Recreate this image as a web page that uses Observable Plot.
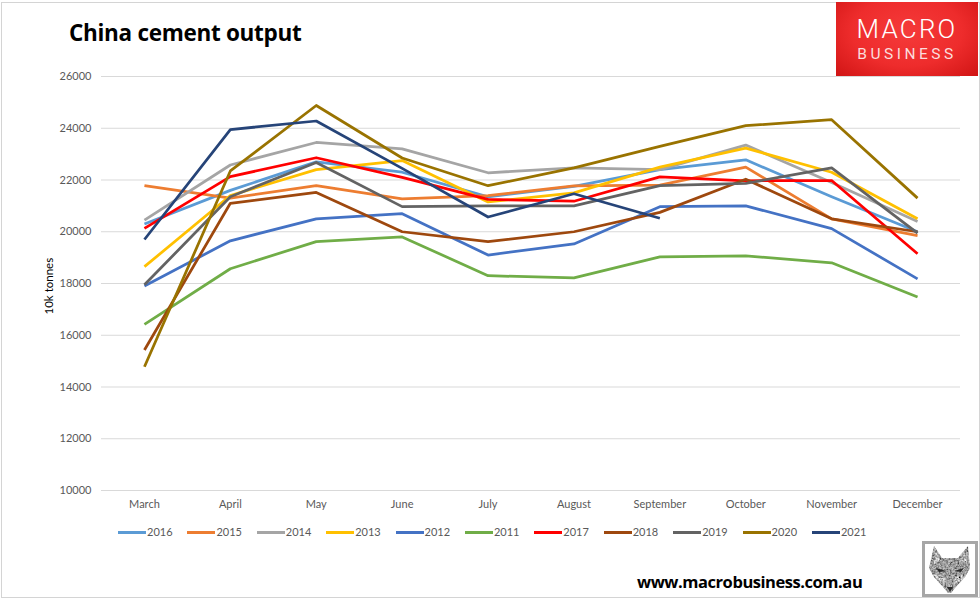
<!DOCTYPE html>
<html>
<head>
<meta charset="utf-8">
<script src="https://cdn.jsdelivr.net/npm/d3@7"></script>
<script src="https://cdn.jsdelivr.net/npm/@observablehq/plot@0.6"></script>
<style>
html,body{margin:0;padding:0;background:#fff;}
#frame{position:relative;width:980px;height:598px;overflow:hidden;font-family:Lato,sans-serif;background:#fff;}
#edge{position:absolute;left:1px;top:2px;width:977px;height:594px;border:1px solid #d4d4d4;pointer-events:none;}
#title{height:60px;box-sizing:border-box;padding:18px 0 0 69px;font:700 22.5px/30px "Open Sans",sans-serif;color:#000;letter-spacing:-.3px;}
#chart svg{display:block;}
#legend{position:absolute;top:524px;left:118px;display:flex;font-size:11px;line-height:16px;color:#595959;}
.item{display:flex;align-items:center;width:69.4px;}
.swatch{width:28px;height:3px;margin-right:1px;}
#url{position:absolute;left:637px;top:571px;font:700 16.5px/22px "Open Sans",sans-serif;color:#000;letter-spacing:-.45px;}
#logo{position:absolute;left:836px;top:2px;width:142px;height:74px;background:radial-gradient(ellipse at 50% 40%,#f53a3a 0%,#ee2c2c 55%,#d01414 100%);color:#fff;text-align:center;font-family:Roboto,sans-serif;}
#logo .a{position:absolute;left:0;right:0;top:15px;font-size:26px;line-height:24px;height:24px;font-weight:300;letter-spacing:2.2px;}
#logo .b{position:absolute;left:0;right:0;top:45.5px;font-size:15.5px;line-height:13px;height:13px;font-weight:400;letter-spacing:3.5px;color:#fbdcdc;}
#fox{position:absolute;left:922px;top:541px;width:50px;height:50px;border:3px solid #a6a6a6;background:#fff;}
</style>
</head>
<body>
<div id="frame">
  <div id="edge"></div>
  <div id="title">China cement output</div>
  <div id="chart"></div>
  <div id="legend"></div>
  <div id="url">www.macrobusiness.com.au</div>
  <div id="logo"><div class="a">MACRO</div><div class="b">BUSINESS</div></div>
  <div id="fox">
    <svg width="50" height="50" viewBox="0 0 50 50">
      <defs>
        <filter id="grain" x="0" y="0" width="100%" height="100%">
          <feTurbulence type="fractalNoise" baseFrequency="0.55" numOctaves="2" seed="4" result="n"/>
          <feColorMatrix in="n" type="matrix" values="0 0 0 0 0  0 0 0 0 0  0 0 0 0 0  1.9 0 0 0 -0.55" result="dark"/>
          <feComposite in="dark" in2="SourceAlpha" operator="in" result="speck"/>
          <feMerge><feMergeNode in="SourceGraphic"/><feMergeNode in="speck"/></feMerge>
        </filter>
      </defs>
      <g filter="url(#grain)">
        <path d="M9 2 L17 14 L33 14 L43 2 L45 24 L40 33 L30 44 L26 49 L23 49 L19 44 L9 33 L4 24 Z" fill="#c4c4c4"/>
        <path d="M11 7 L15 16 L9 20 Z M41 7 L36 16 L42 20 Z" fill="#f2f2f2"/>
        <path d="M8 30 L20 33 L22 41 L14 37 Z M42 30 L30 33 L28 41 L36 37 Z" fill="#eeeeee"/>
      </g>
      <path d="M11 24 L21 27 L14 28 Z M39 24 L29 27 L36 28 Z M22 43 L28 43 L25 48 Z" fill="#2b2b2b"/>
    </svg>
  </div>
</div>
<script>
const months = ["March","April","May","June","July","August","September","October","November","December"];
const y2016 = [20300,21600,22700,22300,21350,21750,22400,22780,21350,20000];
const y2015 = [21780,21300,21780,21270,21400,21770,21800,22500,20500,19850];
const y2014 = [20450,22580,23450,23200,22280,22470,22400,23350,21900,20400];
const y2013 = [18650,21400,22400,22750,21150,21500,22500,23230,22300,20500];
const y2012 = [17900,19650,20500,20700,19100,19530,20970,21000,20120,18180];
const y2011 = [16420,18570,19620,19800,18300,18220,19030,19070,18800,17480];
const y2017 = [20130,22130,22860,22100,21250,21180,22120,21970,21980,19150];
const y2018 = [15430,21100,21520,20000,19620,20000,20750,22030,20500,20000];
const y2019 = [17950,21350,22680,20970,21000,21000,21780,21870,22470,19950];
const y2020 = [14780,22350,24880,22850,21780,22470,23300,24100,24330,21300];
const y2021 = [19700,23950,24280,22450,20570,21470,20520];
const seriesNames = ["2016","2015","2014","2013","2012","2011","2017","2018","2019","2020","2021"];
const seriesValues = [y2016,y2015,y2014,y2013,y2012,y2011,y2017,y2018,y2019,y2020,y2021];
const seriesColors = ["#5b9bd5","#ed7d31","#a5a5a5","#ffc000","#4472c4","#70ad47","#ff0000","#9e480e","#636363","#997300","#264478"];
const yTicks = [10000,12000,14000,16000,18000,20000,22000,24000,26000];

const rows = seriesNames.flatMap((name,i) => seriesValues[i].map((v,j) => ({name, month: months[j], value: v})));

const plot = Plot.plot({
  width: 980,
  height: 455,
  marginTop: 16,
  marginBottom: 25,
  marginLeft: 101,
  marginRight: 20,
  style: {fontFamily: "Lato, sans-serif", fontSize: "11px", color: "#595959", background: "transparent"},
  x: {type: "point", domain: months, padding: 0.5, round: false, axis: null},
  y: {domain: [10000,26000], axis: null},
  color: {domain: seriesNames, range: seriesColors},
  marks: [
    Plot.gridY(yTicks, {stroke: "#d9d9d9", strokeOpacity: 1, strokeWidth: 1}),
    Plot.axisY(yTicks, {anchor: "left", tickSize: 0, tickPadding: 10, tickFormat: d => String(d), label: null, fill: "#595959"}),
    Plot.axisX(months, {anchor: "bottom", tickSize: 0, tickPadding: 10, label: null, fill: "#595959"}),
    Plot.text(["10k tonnes"], {frameAnchor: "left", dx: -52, dy: 31, rotate: -90, fill: "#000", fontSize: 11.5}),
    ...seriesNames.map(n => Plot.line(rows.filter(r => r.name === n), {
      x: "month", y: "value", stroke: "name", strokeWidth: 2.75, curve: "linear", strokeLinejoin: "round", strokeLinecap: "butt"
    }))
  ]
});
document.getElementById("chart").appendChild(plot);

const legend = document.getElementById("legend");
seriesNames.forEach((n,i) => {
  const item = document.createElement("div"); item.className = "item";
  const sw = document.createElement("div"); sw.className = "swatch"; sw.style.background = seriesColors[i];
  const t = document.createElement("span"); t.textContent = n;
  item.append(sw,t); legend.appendChild(item);
});
</script>
</body>
</html>
